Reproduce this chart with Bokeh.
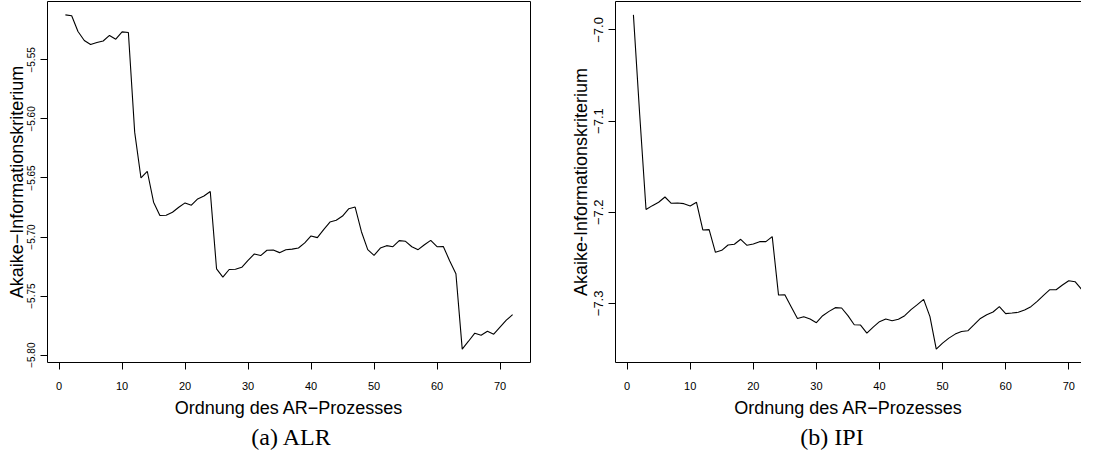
from bokeh.plotting import figure
from bokeh.models import Range1d, LinearAxis, Div, FixedTicker
from bokeh.layouts import row, column
from bokeh.embed import file_html
from bokeh.resources import INLINE

# ---------------- data ----------------
order = list(range(1, 73))

aic_alr = [-5.5119, -5.5127, -5.5260, -5.5336, -5.5370, -5.5353, -5.5340, -5.5293, -5.5325, -5.5263,
           -5.5268, -5.6112, -5.6500, -5.6443, -5.6705, -5.6818, -5.6815, -5.6790, -5.6748, -5.6711,
           -5.6730, -5.6677, -5.6652, -5.6615, -5.7270, -5.7340, -5.7275, -5.7273, -5.7256, -5.7197,
           -5.7143, -5.7157, -5.7112, -5.7110, -5.7132, -5.7107, -5.7102, -5.7093, -5.7050, -5.6991,
           -5.7005, -5.6937, -5.6873, -5.6858, -5.6822, -5.6760, -5.6746, -5.6955, -5.7107, -5.7155,
           -5.7093, -5.7073, -5.7082, -5.7030, -5.7036, -5.7082, -5.7107, -5.7065, -5.7028, -5.7082,
           -5.7080, -5.7200, -5.7311, -5.7949, -5.7882, -5.7814, -5.7831, -5.7797, -5.7822, -5.7763,
           -5.7704, -5.7657]

aic_ipi = [-6.9835, -7.0933, -7.1971, -7.1928, -7.1891, -7.1833, -7.1902, -7.1899, -7.1906, -7.1932,
           -7.1891, -7.2195, -7.2191, -7.2440, -7.2418, -7.2360, -7.2352, -7.2297, -7.2363, -7.2349,
           -7.2323, -7.2323, -7.2268, -7.2909, -7.2905, -7.3036, -7.3165, -7.3146, -7.3171, -7.3212,
           -7.3135, -7.3088, -7.3047, -7.3051, -7.3135, -7.3234, -7.3238, -7.3326, -7.3260, -7.3201,
           -7.3172, -7.3190, -7.3175, -7.3135, -7.3069, -7.3014, -7.2956, -7.3146, -7.3502, -7.3436,
           -7.3381, -7.3337, -7.3308, -7.3301, -7.3234, -7.3165, -7.3124, -7.3095, -7.3036, -7.3113,
           -7.3106, -7.3098, -7.3073, -7.3036, -7.2978, -7.2912, -7.2850, -7.2850, -7.2799, -7.2751,
           -7.2762, -7.2843]

x_ticks = [0, 10, 20, 30, 40, 50, 60, 70]
alr_ticks = [-5.80, -5.75, -5.70, -5.65, -5.60, -5.55]
ipi_ticks = [-7.3, -7.2, -7.1, -7.0]

x_title = "Ordnung des AR\u2212Prozesses"
y_title_alr = "Akaike\u2212Informationskriterium"
y_title_ipi = "Akaike-Informationskriterium"
caption_a = "(a)  ALR"
caption_b = "(b)  IPI"

SANS = "Liberation Sans"
SERIF = "Liberation Serif"


def pad(vals, frac=0.04):
    lo, hi = min(vals), max(vals)
    r = hi - lo
    return lo - frac * r, hi + frac * r


def style_axis(ax, label_size, label_standoff, title_standoff):
    ax.axis_label_text_font = SANS
    ax.axis_label_text_font_size = "18px"
    ax.axis_label_text_font_style = "normal"
    ax.axis_label_text_color = "black"
    ax.axis_label_standoff = title_standoff
    ax.major_label_text_font = SANS
    ax.major_label_text_font_size = label_size
    ax.major_label_text_color = "black"
    ax.major_label_standoff = label_standoff
    ax.major_tick_in = 0
    ax.major_tick_out = 7
    ax.major_tick_line_color = "black"
    ax.minor_tick_line_color = None


def make_panel(yvals, yticks, ytitle, fmt, ysize, ytitle_standoff, xend, fw, mbl, mbr, box_right):
    x0, x1 = pad(order)
    if xend is not None:
        x1 = xend
    y0, y1 = pad(yvals)
    p = figure(frame_width=fw, frame_height=361, output_backend="svg",
               toolbar_location=None, tools="",
               x_range=Range1d(x0, x1), y_range=Range1d(y0, y1),
               min_border_left=mbl, min_border_right=mbr,
               min_border_top=1, min_border_bottom=58)
    p.background_fill_color = "white"
    p.border_fill_color = "white"
    p.grid.visible = False
    p.line(order, yvals, line_color="black", line_width=1.1)

    p.xaxis.ticker = FixedTicker(ticks=x_ticks)
    p.xaxis.major_label_overrides = {t: str(t) for t in x_ticks}
    p.xaxis.axis_label = x_title
    style_axis(p.xaxis[0], "11px", 12, 5)

    p.yaxis.ticker = FixedTicker(ticks=yticks)
    p.yaxis.major_label_overrides = {t: fmt(t) for t in yticks}
    p.yaxis.major_label_orientation = "vertical"
    p.yaxis.axis_label = ytitle
    style_axis(p.yaxis[0], ysize, 5, ytitle_standoff)

    if box_right:
        p.outline_line_color = "black"
        p.outline_line_width = 1
        p.xaxis.axis_line_color = None
        p.yaxis.axis_line_color = None
    else:
        p.outline_line_color = None
        p.xaxis.axis_line_color = "black"
        p.yaxis.axis_line_color = "black"
        top = LinearAxis(ticker=FixedTicker(ticks=[]), major_label_text_font_size="0px",
                         major_tick_line_color=None, minor_tick_line_color=None,
                         axis_line_color="black")
        p.add_layout(top, "above")
    return p


def fmt_alr(t):
    return "\u2212" + ("%.2f" % abs(t))


def fmt_ipi(t):
    return "\u2212" + ("%.1f" % abs(t))


p1 = make_panel(aic_alr, alr_ticks, y_title_alr, fmt_alr, "10px", -2, None, 483, 47, 4, True)
p2 = make_panel(aic_ipi, ipi_ticks, y_title_ipi, fmt_ipi, "13px", 1, 72.02, 466, 81, 0, False)

cap_style = {"font-family": SERIF, "font-size": "24px", "text-align": "center",
             "color": "black", "width": "100%", "line-height": "24px"}
d1 = Div(text=caption_a, width=572, height=28, styles=cap_style)
d2 = Div(text=caption_b, width=490, height=28, styles=cap_style)

layout = column(row(p1, p2), row(d1, d2))

open("out.html", "w").write(file_html(layout, INLINE))
